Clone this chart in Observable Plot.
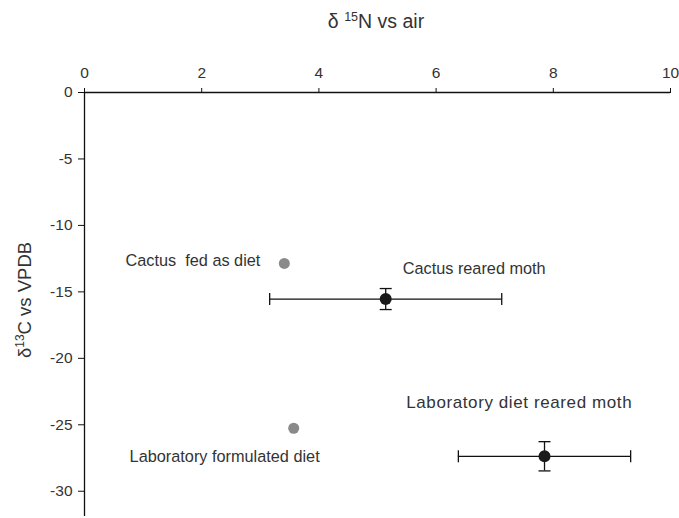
<!DOCTYPE html>
<html>
<head>
<meta charset="utf-8">
<script src="https://cdn.jsdelivr.net/npm/d3@7"></script>
<script src="https://cdn.jsdelivr.net/npm/@observablehq/plot@0.6"></script>
<style>
  html, body { margin: 0; padding: 0; background: #fff; }
  #chart svg { display: block; }
</style>
</head>
<body>
<div id="chart"></div>
<script>
// ---- data ----
const labels = ["Cactus  fed as diet", "Laboratory formulated diet", "Cactus reared moth", "Laboratory diet reared moth"];
const kinds = ["diet", "diet", "moth", "moth"];
const d15N = [3.41, 3.57, 5.14, 7.85];
const d13C = [-12.86, -25.26, -15.54, -27.37];
const errN = [0, 0, 1.98, 1.47];
const errC = [0, 0, 0.79, 1.1];
const labelN = [0.70, 0.77, 5.43, 5.49];
const labelC = [-12.64, -27.39, -13.24, -23.33];
const xTicks = [0, 2, 4, 6, 8, 10];
const yTicks = [0, -5, -10, -15, -20, -25, -30];

const rows = labels.map((l, i) => ({
  label: l, kind: kinds[i], n: d15N[i], c: d13C[i],
  nlo: d15N[i] - errN[i], nhi: d15N[i] + errN[i],
  clo: d13C[i] - errC[i], chi: d13C[i] + errC[i],
  ln: labelN[i], lc: labelC[i]
}));
const diets = rows.filter(d => d.kind === "diet");
const moths = rows.filter(d => d.kind === "moth");

const vCap = {draw(ctx, size) { const r = Math.sqrt(size / Math.PI); ctx.moveTo(0, -r); ctx.lineTo(0, r); }};
const hCap = {draw(ctx, size) { const r = Math.sqrt(size / Math.PI); ctx.moveTo(-r, 0); ctx.lineTo(r, 0); }};

const font = "'Liberation Sans', Arial, sans-serif";
const fmt = d => String(d);

const chart = Plot.plot({
  width: 679,
  height: 518,
  marginTop: 92,
  marginLeft: 84,
  marginRight: 9,
  marginBottom: 2,
  style: {fontFamily: font, fontSize: "15.5px", color: "#333", background: "#fff"},
  x: {domain: [0, 10]},
  y: {domain: [-31.9, 0]},
  marks: [
    Plot.axisX({anchor: "top", ticks: xTicks, tickFormat: fmt, tickSize: 5, tickPadding: 10, label: null, stroke: "#111", fill: "#333", fontSize: 15.5}),
    Plot.axisY({anchor: "left", ticks: yTicks, tickFormat: fmt, tickSize: 6, tickPadding: 6, label: null, stroke: "#111", fill: "#333", fontSize: 15.5}),
    Plot.ruleY([0], {stroke: "#111", strokeWidth: 1.3}),
    Plot.ruleX([0], {stroke: "#111", strokeWidth: 1.3}),
    // error bars
    Plot.ruleY(moths, {y: "c", x1: "nlo", x2: "nhi", stroke: "#111", strokeWidth: 1.3}),
    Plot.ruleX(moths, {x: "n", y1: "clo", y2: "chi", stroke: "#111", strokeWidth: 1.3}),
    Plot.dot(moths, {x: "nlo", y: "c", symbol: vCap, r: 6, stroke: "#111", fill: "none", strokeWidth: 1.3}),
    Plot.dot(moths, {x: "nhi", y: "c", symbol: vCap, r: 6, stroke: "#111", fill: "none", strokeWidth: 1.3}),
    Plot.dot(moths, {x: "n", y: "clo", symbol: hCap, r: 6, stroke: "#111", fill: "none", strokeWidth: 1.3}),
    Plot.dot(moths, {x: "n", y: "chi", symbol: hCap, r: 6, stroke: "#111", fill: "none", strokeWidth: 1.3}),
    // points
    Plot.dot(diets, {x: "n", y: "c", r: 5.5, fill: "#8a8a8a", stroke: "none"}),
    Plot.dot(moths, {x: "n", y: "c", r: 6, fill: "#1a1a1a", stroke: "none"}),
    // labels
    Plot.text(rows.filter(d => d.label !== "Laboratory diet reared moth"), {x: "ln", y: "lc", text: "label", textAnchor: "start", fill: "#333", fontSize: 16.3}),
    Plot.text(rows.filter(d => d.label === "Laboratory diet reared moth"), {x: "ln", y: "lc", text: "label", textAnchor: "start", fill: "#333", fontSize: 17})
  ]
});

const svg = d3.select(chart);
svg.selectAll("text").style("white-space", "pre");
svg.selectAll("text")
  .filter(function() { return this.textContent === "Laboratory diet reared moth"; })
  .style("letter-spacing", "0.6px");
// top title (x axis label)
const t = svg.append("text")
  .attr("x", 376).attr("y", 28)
  .attr("text-anchor", "middle")
  .attr("fill", "#333")
  .style("font-family", font).style("font-size", "19.5px");
t.append("tspan").text("δ ");
t.append("tspan").attr("dy", -7).style("font-size", "12.5px").text("15");
t.append("tspan").attr("dy", 7).text("N vs air");
// y axis label
const ty = svg.append("text")
  .attr("transform", "translate(31,300) rotate(-90)")
  .attr("text-anchor", "middle")
  .attr("fill", "#333")
  .style("font-family", font).style("font-size", "18.5px");
ty.append("tspan").text("δ");
ty.append("tspan").attr("dy", -7).style("font-size", "12px").text("13");
ty.append("tspan").attr("dy", 7).text("C vs VPDB");

document.getElementById("chart").appendChild(chart);
</script>
</body>
</html>
